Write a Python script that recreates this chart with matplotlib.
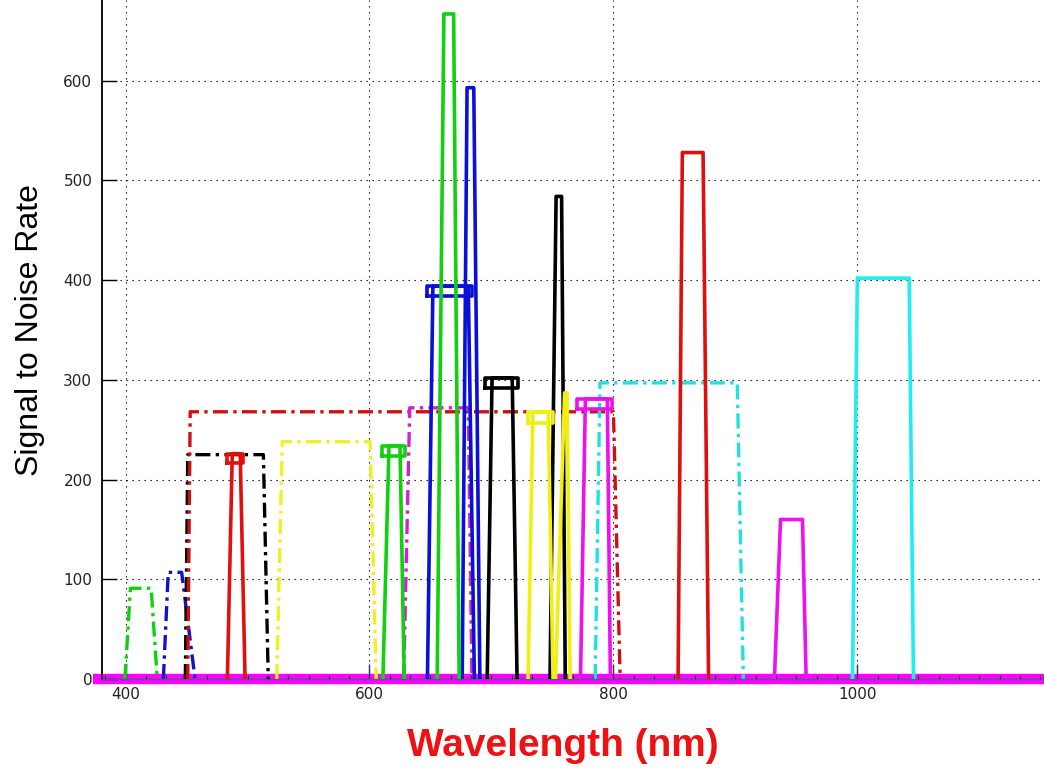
import matplotlib
matplotlib.use('Agg')
import matplotlib.pyplot as plt
from matplotlib.ticker import MultipleLocator

plt.rcParams['font.family'] = ['Liberation Sans', 'DejaVu Sans']

# wide filters (dash-dot): base-left, top-left, top-right, base-right, height
band_colors = ['#10d010', '#1010d0', 'black', '#cc1010', '#f0f020', '#d020d0', '#20e0e0']
band_x = [
    [399.5, 404, 421, 426],
    [431, 435, 446, 457],
    [449, 451, 513, 517],
    [451, 453, 800, 805.5],
    [524, 528.5, 600.5, 605.5],
    [628, 633, 681, 684],
    [785, 789, 901.5, 906.5],
]
band_top = [91, 107, 225, 268, 238, 272, 297]

# narrow filters (solid)
peak_colors = ['#e01010', '#10d010', '#0a10d8', '#0a10d8', '#10d010', 'black',
               'black', '#f0f010', '#f0f010', '#ee10ee', '#dd1010', '#ee10ee', '#20eeee']
peak_x = [
    [483.5, 487.5, 494, 498],
    [611, 616, 625, 628.5],
    [647.5, 652, 681, 686],
    [676, 680, 685.5, 690.5],
    [655.5, 661, 669, 673.5],
    [696.5, 700.5, 717, 721],
    [748, 753, 757.5, 760.5],
    [730, 734, 746.5, 750.5],
    [752.5, 760, 762, 764.5],
    [773, 777, 795, 797.5],
    [853, 856.5, 873.5, 878],
    [932, 937, 955, 958],
    [996, 1000, 1042.5, 1046],
]
peak_top = [226, 234, 394, 593, 667, 302, 484, 268, 287, 281, 528, 160, 402]
# little boxes sitting on some of the peak tops: x0, x1, low
box_x0 = [483.5, 610.5, 647.5, None, None, 695, None, 730, None, 770.5, None, None, None]
box_x1 = [496.5, 629.5, 684, None, None, 722, None, 750.5, None, 798.5, None, None, None]
box_lo = [217, 224, 384, None, None, 292, None, 257, None, 271, None, None, None]

baseline_x = [373, 1165]
baseline_y = [0, 0]

fig = plt.figure(figsize=(10.44, 7.7), dpi=100)
ax = fig.add_axes([102 / 1044, 91 / 770, 942 / 1044, 679 / 770])

for c, xs, top in zip(band_colors, band_x, band_top):
    ax.plot(xs, [0, top, top, 0], color=c, lw=2.4, ls=(0, (4.5, 1.6, 1, 1.6)), zorder=2)

for i in range(len(peak_x)):
    xs = peak_x[i]
    top = peak_top[i]
    ax.plot(xs, [0, top, top, 0], color=peak_colors[i], lw=2.6, zorder=3)
    if box_x0[i] is not None:
        bx = [box_x0[i], box_x0[i], box_x1[i], box_x1[i], box_x0[i]]
        by = [box_lo[i], top, top, box_lo[i], box_lo[i]]
        ax.plot(bx, by, color=peak_colors[i], lw=2.6, zorder=3)

ax.plot(baseline_x, baseline_y, color='#ff00ff', lw=7.5, zorder=1, clip_on=False,
        solid_capstyle='butt')

ax.set_xlim(380.7, 1153)
ax.set_ylim(0, 681)
ax.set_xticks([400, 600, 800, 1000])
ax.set_yticks([0, 100, 200, 300, 400, 500, 600])
ax.xaxis.set_minor_locator(MultipleLocator(200 / 12))
ax.tick_params(axis='both', which='major', direction='in', length=11, width=1,
               labelsize=11, labelcolor='#222222')
ax.tick_params(axis='x', which='minor', direction='in', length=3, width=0.8)
ax.tick_params(axis='x', which='major', pad=6, color='#303060')
ax.tick_params(axis='y', which='major', pad=7)
for lab in ax.get_xticklabels() + ax.get_yticklabels():
    lab.set_family('DejaVu Sans')

ax.grid(True, which='major', color='black', lw=0.8, ls=(0, (1.2, 4.2)))
ax.spines['top'].set_visible(False)
ax.spines['right'].set_visible(False)
ax.spines['left'].set_linewidth(1.3)
ax.spines['bottom'].set_color('#4a5a9a')
ax.spines['bottom'].set_linewidth(1)

ax.set_ylabel('Signal to Noise Rate', fontsize=23)
ax.yaxis.set_label_coords(-0.06, 0.514)
fig.text(563 / 1044, 24 / 770, 'Wavelength (nm)', color='#ee1111', fontsize=28,
         fontweight='bold', ha='center', va='center')

fig.savefig('out.png', dpi=100)
